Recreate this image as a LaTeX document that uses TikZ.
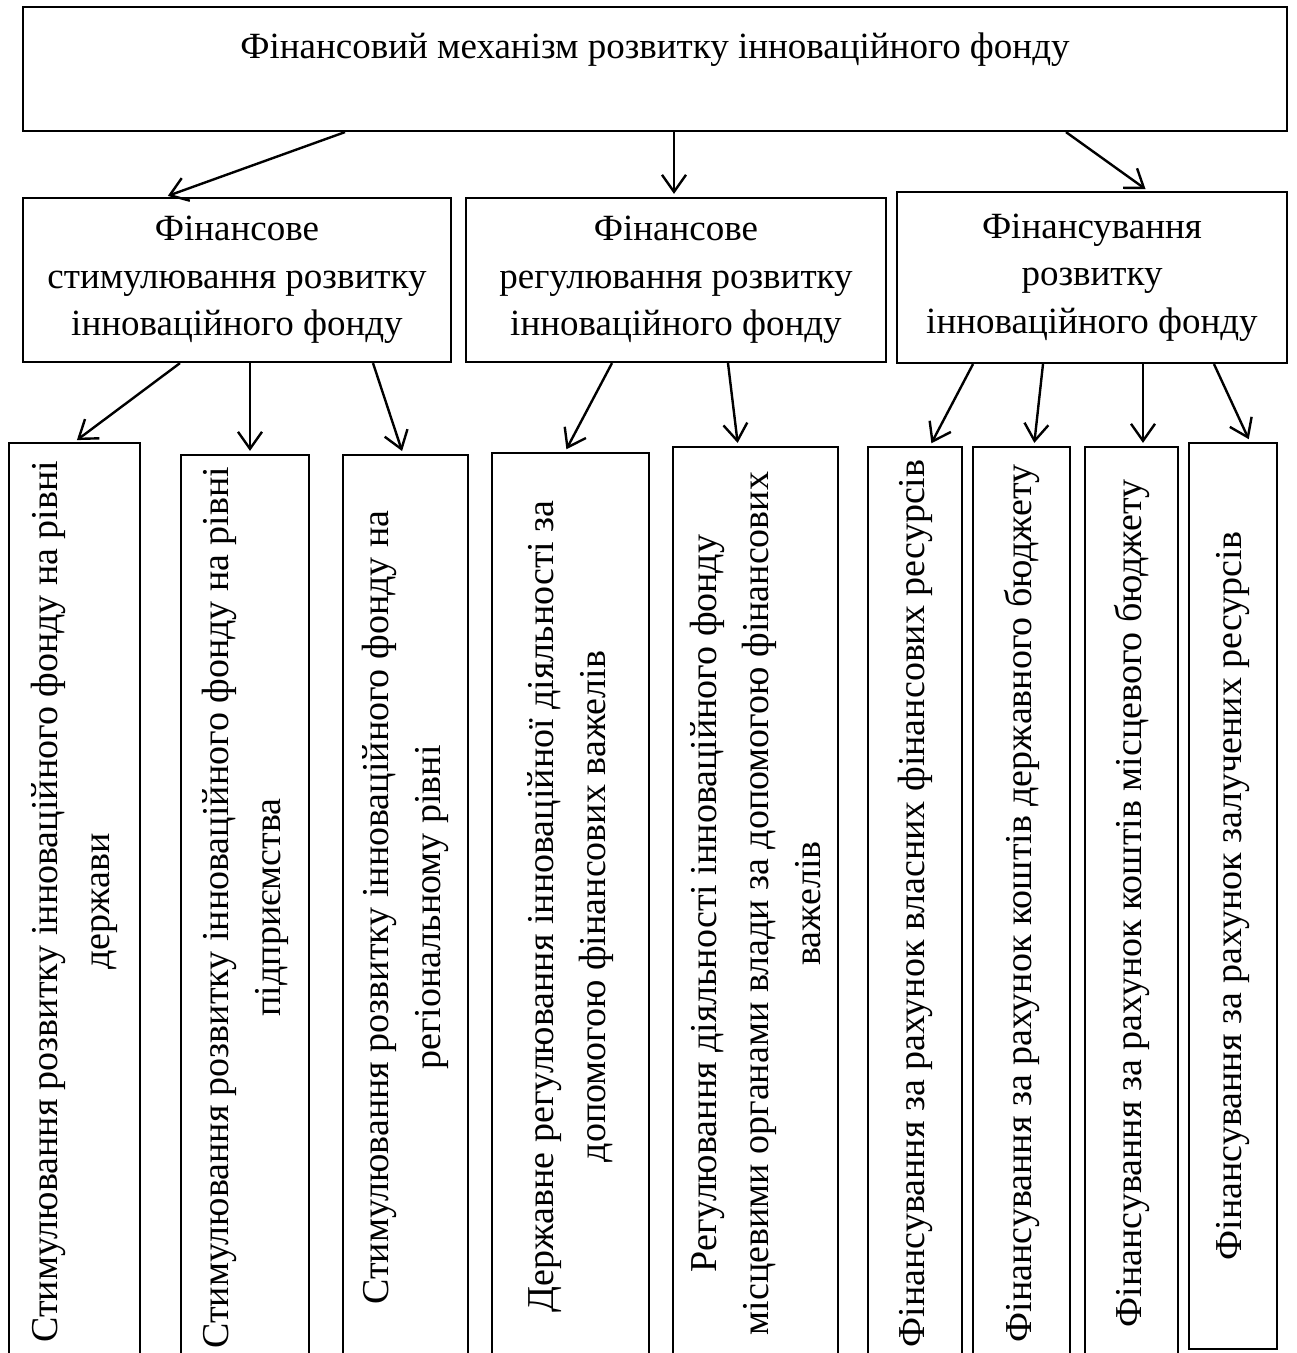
\documentclass[tikz,border=0pt]{standalone}
\usepackage{fontspec}
\setmainfont{Liberation Serif}
\usepackage{tikz}
\usetikzlibrary{arrows.meta,shapes}
\tikzstyle{blk}=[draw=black, line width=2.2pt, inner sep=0pt, align=flush center,
                 font=\fontsize{37}{47.5}\selectfont]
\tikzstyle{vblk}=[blk, rotate=90, text width=905pt,
                  font=\fontsize{38}{52}\selectfont]
\tikzstyle{arr}=[-{Straight Barb[length=17pt,width=24pt]}, line width=2.4pt,
                 shorten >=3pt]

\begin{document}
\begin{tikzpicture}[x=1pt, y=-1pt]
    \useasboundingbox (0,0) rectangle (1297,1353);
    % top level
    \node[blk, minimum width=1264pt, minimum height=124pt] (fm) at (655,69)
      {Фінансовий механізм розвитку інноваційного фонду\\~};
    % second level
    \node[blk, minimum width=428pt, minimum height=164pt] (stim) at (237,280)
      {Фінансове\\стимулювання розвитку\\інноваційного фонду};
    \node[blk, minimum width=420pt, minimum height=164pt] (reg) at (676,280)
      {Фінансове\\регулювання розвитку\\інноваційного фонду};
    \node[blk, minimum width=390pt, minimum height=171pt] (fin) at (1092,277.5)
      {Фінансування\\розвитку\\інноваційного фонду};
    % bottom level (rotated)
    \node[vblk, minimum width=917pt, minimum height=131pt] (st1) at (74.5,901.5)
      {Стимулювання розвитку інноваційного фонду на рівні держави};
    \node[vblk, minimum width=905pt, minimum height=128pt] (st2) at (245,907.5)
      {Стимулювання розвитку інноваційного фонду на рівні підприємства};
    \node[vblk, minimum width=905pt, minimum height=125pt] (st3) at (405.5,907.5)
      {Стимулювання розвитку інноваційного фонду на регіональному рівні};
    \node[vblk, minimum width=907pt, minimum height=157pt] (rg1) at (570.5,906.5)
      {Державне регулювання інноваційної діяльності за допомогою фінансових важелів};
    \node[vblk, minimum width=913pt, minimum height=165pt] (rg2) at (755.5,903.5)
      {Регулювання діяльності інноваційного фонду\\місцевими органами влади за допомогою фінансових важелів};
    \node[vblk, minimum width=913pt, minimum height=94pt] (fn1) at (915,903.5)
      {Фінансування за рахунок власних фінансових ресурсів};
    \node[vblk, minimum width=913pt, minimum height=97pt] (fn2) at (1021.5,903.5)
      {Фінансування за рахунок коштів державного бюджету};
    \node[vblk, minimum width=913pt, minimum height=93pt] (fn3) at (1131.5,903.5)
      {Фінансування за рахунок коштів місцевого бюджету};
    \node[vblk, minimum width=906pt, minimum height=88pt] (fn4) at (1233,896)
      {Фінансування за рахунок залучених ресурсів};
    \path[arr]
      ([xshift=-310pt]fm.south) edge ([xshift=-72pt]stim.north)
      ([xshift=19pt]fm.south) edge ([xshift=-2pt]reg.north)
      ([xshift=411pt]fm.south) edge ([xshift=56pt]fin.north)
      ([xshift=-57pt]stim.south) edge (st1.east)
      ([xshift=13pt]stim.south) edge ([xshift=5pt]st2.east)
      ([xshift=136pt]stim.south) edge ([xshift=-2.5pt]st3.east)
      ([xshift=-64pt]reg.south) edge ([xshift=-5.5pt]rg1.east)
      ([xshift=52pt]reg.south) edge ([xshift=-17.5pt]rg2.east)
      ([xshift=-119pt]fin.south) edge ([xshift=15pt]fn1.east)
      ([xshift=-49pt]fin.south) edge ([xshift=12.5pt]fn2.east)
      ([xshift=51pt]fin.south) edge ([xshift=11.5pt]fn3.east)
      ([xshift=122pt]fin.south) edge ([xshift=17pt]fn4.east);
  \end{tikzpicture}
\end{document}
